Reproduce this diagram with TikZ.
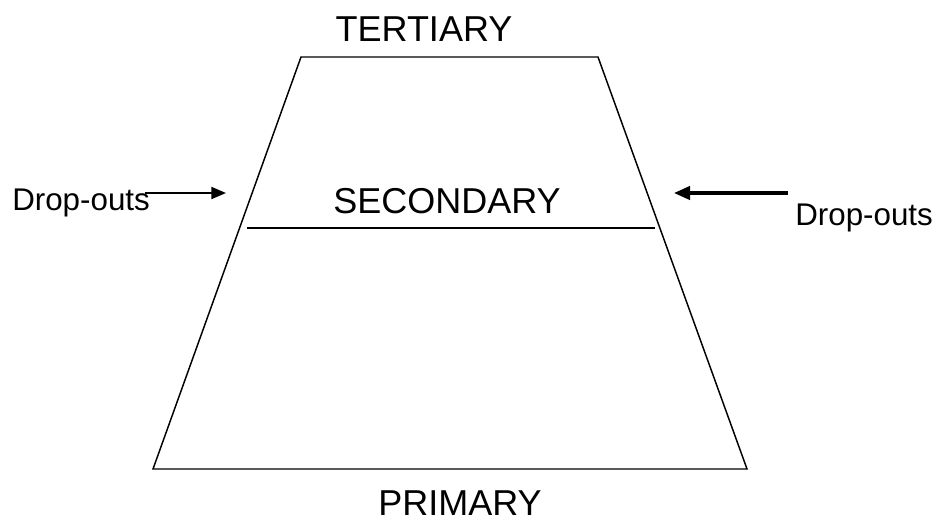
\documentclass[tikz,border=0pt]{standalone}
\usepackage{fontspec}
\setmainfont{Liberation Sans}
\usetikzlibrary{arrows.meta}
\tikzset{
    level/.style={anchor=base,inner sep=0pt,font=\fontsize{27}{31}\selectfont},
    dropout/.style={anchor=base,inner sep=0pt,font=\fontsize{23.5}{27}\selectfont},
}
\begin{document}
\begin{tikzpicture}[x=0.75pt,y=-0.75pt,line join=miter]
    \useasboundingbox (0,0) rectangle (937,521);
    % Trapezoid of the levels.
    \coordinate (tl) at (301,57);
    \coordinate (tr) at (598,57);
    \coordinate (br) at (747,469);
    \coordinate (bl) at (153,469);
    \draw[line width=1.1pt] (tl) -- (tr) -- (br) -- (bl) -- cycle;
    \coordinate (secl) at (247,228);
    \coordinate (secr) at (655,228);
    \draw[line width=1.1pt] (secl) -- (secr);

    \node[level] (tert) at (424,41) {TERTIARY};
    \node[level] (sec) at (447,213) {SECONDARY};
    \node[level] (prim) at (460,515) {PRIMARY};

    % Drop-outs on both sides.
    \node[dropout,anchor=base west] (dropl) at (12,210) {Drop-outs};
    \node[dropout,anchor=base west] (dropr) at (795,225) {Drop-outs};
    \coordinate (taill) at (145,193);
    \coordinate (tipl) at (226,193);
    \coordinate (tailr) at (788,193);
    \coordinate (tipr) at (674,193);
    \draw[line width=1.4pt,-{Triangle[length=11pt,width=9pt]}]
        (taill) -- (tipl);
    \draw[line width=2.4pt,-{Triangle[length=12pt,width=10pt]}]
        (tailr) -- (tipr);
\end{tikzpicture}
\end{document}
